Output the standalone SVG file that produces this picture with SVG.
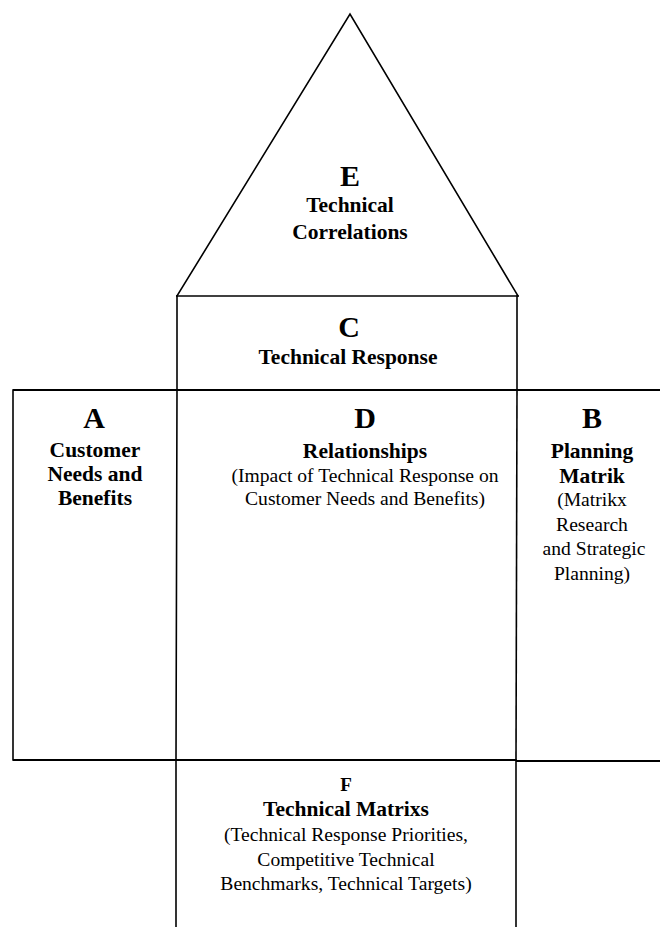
<svg xmlns="http://www.w3.org/2000/svg" width="660" height="927" viewBox="0 0 660 927">
<style>
.ln{stroke:#000;stroke-width:1.6;fill:none;stroke-linecap:square}
.hl{stroke:#000;stroke-width:2;fill:none}
text{font-family:"Liberation Serif","Times New Roman",serif;fill:#000;text-anchor:middle}
.big{font-size:30px;font-weight:bold}
.b{font-size:21.5px;font-weight:bold}
.r{font-size:19.6px}
</style>
<rect x="0" y="0" width="660" height="927" fill="#fff"/>
<g id="E">
<polyline class="ln" points="177,296 350,14 518,296"/>
<text class="big" x="350" y="186">E</text>
<text class="b" x="350" y="212">Technical</text>
<text class="b" x="350" y="239">Correlations</text>
</g>
<g id="C">
<line class="ln" x1="177" y1="296" x2="518" y2="296"/>
<line class="ln" x1="177" y1="296" x2="177" y2="390"/>
<line class="ln" x1="517" y1="296" x2="517" y2="390"/>
<text class="big" x="349" y="337">C</text>
<text class="b" x="348" y="364">Technical Response</text>
</g>
<g id="A">
<line class="hl" x1="13" y1="390" x2="177" y2="390"/>
<line class="ln" x1="13" y1="390" x2="13" y2="760"/>
<line class="hl" x1="13" y1="760" x2="177" y2="760"/>
<text class="big" x="94" y="428">A</text>
<text class="b" x="95" y="457">Customer</text>
<text class="b" x="95" y="481">Needs and</text>
<text class="b" x="95" y="505">Benefits</text>
</g>
<g id="D">
<line class="hl" x1="177" y1="390" x2="517" y2="390"/>
<line class="ln" x1="177" y1="390" x2="176" y2="760"/>
<line class="ln" x1="517" y1="390" x2="516" y2="760"/>
<line class="hl" x1="176" y1="760" x2="516" y2="760"/>
<text class="big" x="365" y="428">D</text>
<text class="b" x="365" y="458">Relationships</text>
<text class="r" x="365" y="482">(Impact of Technical Response on</text>
<text class="r" x="365" y="505">Customer Needs and Benefits)</text>
</g>
<g id="B">
<line class="hl" x1="517" y1="390" x2="660" y2="390"/>
<line class="hl" x1="516" y1="761" x2="660" y2="761"/>
<text class="big" x="592" y="428">B</text>
<text class="b" x="592" y="458">Planning</text>
<text class="b" x="592" y="483">Matrik</text>
<text class="r" x="592" y="506">(Matrikx</text>
<text class="r" x="592" y="531">Research</text>
<text class="r" x="594" y="555">and Strategic</text>
<text class="r" x="592" y="580">Planning)</text>
</g>
<g id="F">
<line class="ln" x1="176" y1="760" x2="176" y2="927"/>
<line class="ln" x1="516" y1="760" x2="516" y2="927"/>
<text class="b" x="346" y="791" style="font-size:19px">F</text>
<text class="b" x="346" y="816">Technical Matrixs</text>
<text class="r" x="346" y="841">(Technical Response Priorities,</text>
<text class="r" x="346" y="866">Competitive Technical</text>
<text class="r" x="346" y="890">Benchmarks, Technical Targets)</text>
</g>
<g id="connectors"></g>
</svg>
